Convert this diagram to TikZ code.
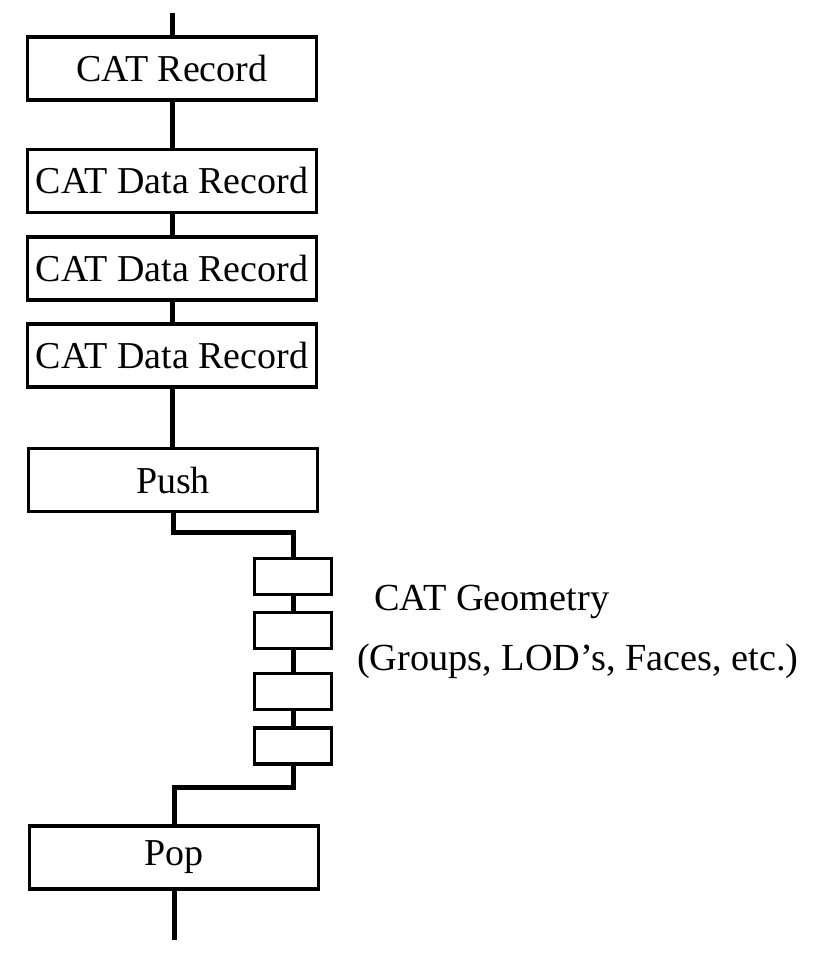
\documentclass[tikz,border=0pt]{standalone}
\usepackage{fontspec}
\setmainfont{Liberation Serif}
\begin{document}
\begin{tikzpicture}[x=1pt,y=-1pt,
  bigbox/.style={draw, line width=3.5pt, minimum width=289pt, minimum height=63pt, inner sep=0pt, font=\fontsize{38}{45}\selectfont},
  smallbox/.style={draw, line width=3.5pt, minimum width=77pt, minimum height=36pt, inner sep=0pt},
  conn/.style={line width=5pt},
  lbl/.style={anchor=base west, inner sep=0pt, font=\fontsize{38.3}{45}\selectfont}]
\useasboundingbox (0,0) rectangle (818,965);
\node[bigbox] (rec) at (172,68.5) {CAT Record};
\node[bigbox] (d1) at (172,181) {CAT Data Record};
\node[bigbox] (d2) at (172,268.5) {CAT Data Record};
\node[bigbox] (d3) at (172,355.5) {CAT Data Record};
\node[bigbox] (push) at (173,480) {Push};
\node[smallbox] (g1) at (293,576.5) {};
\node[smallbox] (g2) at (293,630.5) {};
\node[smallbox] (g3) at (293,691.5) {};
\node[smallbox] (g4) at (293,746) {};
\node[bigbox] (pop) at (174,857.5) {Pop};
\coordinate (top) at (rec.north |- 0,13);
\coordinate (bot) at (pop.south |- 0,940);
\coordinate (j1) at (push.south |- 0,532);
\coordinate (j2) at (pop.north |- 0,787);
\node[lbl] (geo) at (374,610) {CAT Geometry};
\node[lbl] (grp) at (357,670) {(Groups, LOD's, Faces, etc.)};
\draw[conn] (top) -- (rec.north);
\draw[conn] (rec.south) -- (d1.north);
\draw[conn] (d1.south) -- (d2.north);
\draw[conn] (d2.south) -- (d3.north);
\draw[conn] (d3.south) -- (d3.south |- push.north);
\draw[conn] (push.south) -- (j1) -| (g1.north);
\draw[conn] (g1.south) -- (g2.north);
\draw[conn] (g2.south) -- (g3.north);
\draw[conn] (g3.south) -- (g4.north);
\draw[conn] (g4.south) |- (j2) -- (pop.north);
\draw[conn] (pop.south) -- (bot);
\end{tikzpicture}
\end{document}
